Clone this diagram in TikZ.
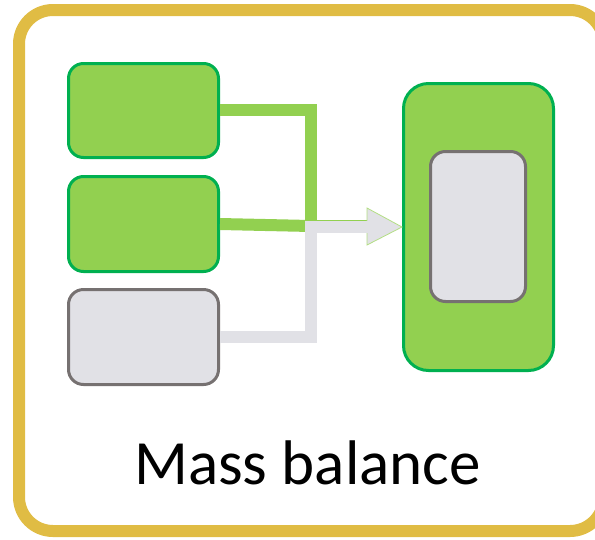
\documentclass[tikz,border=0pt]{standalone}
\usepackage{fontspec}
\setmainfont{Carlito}
\definecolor{gold}{HTML}{E0BC44}
\definecolor{lgreen}{HTML}{92D050}
\definecolor{dgreen}{HTML}{00B050}
\definecolor{lgrey}{HTML}{E1E1E6}
\definecolor{dgrey}{HTML}{767171}
\tikzset{
  greenbox/.style={draw=dgreen, fill=lgreen, line width=3pt, rounded corners=15pt, inner sep=0pt},
  greybox/.style={draw=dgrey, fill=lgrey, line width=3pt, rounded corners=15pt, inner sep=0pt},
  greenflow/.style={draw=lgreen, line width=12pt},
  greyflow/.style={draw=lgrey, line width=12pt},
}
\begin{document}
\begin{tikzpicture}[x=1pt,y=-1pt]
\useasboundingbox (0,0) rectangle (595,539);
\begin{scope}
\clip (0,0) rectangle (595,539);
\draw[gold, line width=12pt, rounded corners=34pt] (19,10) rectangle (604,531);
\end{scope}
% boxes
\node[greenbox, minimum width=150pt, minimum height=94pt] (b1) at (143.5,110.5) {};
\node[greenbox, minimum width=150pt, minimum height=95pt] (b2) at (143.5,224) {};
\node[greybox, minimum width=150pt, minimum height=95pt] (b3) at (143.5,337) {};
\node[greenbox, rounded corners=25pt, minimum width=150pt, minimum height=287pt] (big) at (478.5,227) {};
\node[greybox, minimum width=95pt, minimum height=150pt] (inner) at (478,226.5) {};
% connector coordinates
\coordinate (j1) at (311,110);
\coordinate (j2) at (311,226);
\coordinate (j3) at (311,337);
\coordinate (jg) at (311,227);
\coordinate (ab) at (367,227);
% green flows
\draw[greenflow] (b1.east |- j1) -- (j1) -- (311,224);
\draw[greenflow] (b2.east) -- (j2);
\draw[lgreen, line width=1.5pt] (305,220.5) -- (367,220.5);
% grey flow
\draw[greyflow] (b3.east |- j3) -- (j3) -- (jg) -- (ab);
\fill[lgrey, draw=lgreen!70, line width=0.8pt] (367,208) -- (big.west |- ab) -- (367,245) -- cycle;
\fill[lgrey] (360,221.3) rectangle (368,233);
% label
\node[font=\fontsize{63}{70}\selectfont, anchor=base, inner sep=0pt] (lbl) at (307.5,484) {Mass balance};
\end{tikzpicture}
\end{document}
